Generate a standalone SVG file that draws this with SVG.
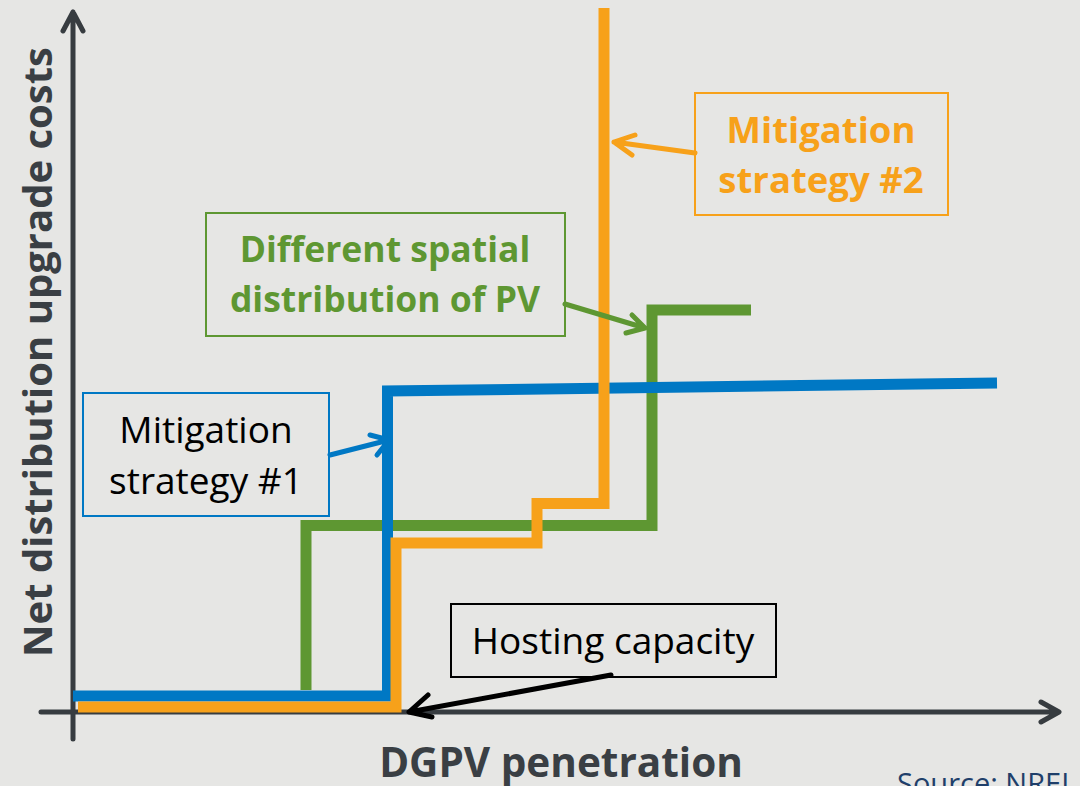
<svg xmlns="http://www.w3.org/2000/svg" width="1080" height="786" viewBox="0 0 1080 786">
  <style>
    .axis { stroke: #373c40; stroke-width: 5; fill: none; stroke-linecap: round; stroke-linejoin: round; }
    .step { fill: none; stroke-width: 11; stroke-linejoin: miter; stroke-linecap: butt; }
    .ptr { fill: none; stroke-width: 5; stroke-linecap: round; stroke-linejoin: round; }
    .box { fill: none; stroke-width: 2; }
    .lbl { font-family: "Open Sans", "Noto Sans", sans-serif; font-size: 37px; text-anchor: middle; }
    .bold { font-weight: bold; font-size: 35.5px; }
    .title { font-family: "Open Sans", "Noto Sans", sans-serif; font-weight: bold; fill: #3a3f44; text-anchor: middle; }
  </style>
  <rect width="1080" height="786" fill="#e6e6e4"/>

  <!-- axes -->
  <g id="axes">
    <path class="axis" d="M73 739 V12 M63 31 L73 12 L83 31"/>
    <path class="axis" d="M41 712 H1058 M1041 702 L1059 712 L1041 722"/>
    <text class="title" x="0" y="0" transform="translate(52 352) rotate(-90)" font-size="40">Net distribution upgrade costs</text>
    <text class="title" x="561" y="777" font-size="40.5">DGPV penetration</text>
  </g>

  <!-- cost curves -->
  <g id="curves">
    <path id="curve-green" class="step" stroke="#5e9732" d="M306 690 V525.5 H652 V310 H751"/>
    <path id="curve-blue" class="step" stroke="#0078c4" d="M73 696 H387.5 V391 L997 383"/>
    <path id="curve-orange" class="step" stroke="#f7a11a" d="M78 707 H396 V543 H537 V503.5 H604 V8"/>
  </g>

  <!-- callout connectors -->
  <g id="connectors">
    <path class="ptr" stroke="#0078c4" d="M330 455 L389 440 M370 435 L389 440 L377 455"/>
    <path class="ptr" stroke="#f7a11a" d="M695 153 L614 142 M635 135 L614 142 L632 155"/>
    <path class="ptr" stroke="#5e9732" d="M565 304 L645 328 M632 315 L645 328 L626 333"/>
    <path class="ptr" stroke="#000000" d="M611 675 L409 712 M428 695 L409 712 L432 717"/>
  </g>

  <g id="note-strategy1">
    <rect class="box" x="83" y="393" width="246" height="123" stroke="#0078c4"/>
    <text class="lbl" x="206" y="443" fill="#000">Mitigation</text>
    <text class="lbl" x="206" y="494" fill="#000">strategy #1</text>
  </g>

  <g id="note-strategy2">
    <rect class="box" x="695" y="93" width="253" height="122" stroke="#f7a11a"/>
    <text class="lbl bold" x="821" y="143" fill="#f7a11a" style="font-size:36.5px">Mitigation</text>
    <text class="lbl bold" x="821" y="193" fill="#f7a11a" style="font-size:36.5px">strategy #2</text>
  </g>

  <g id="note-spatial">
    <rect class="box" x="206" y="213" width="359" height="123" stroke="#5e9732"/>
    <text class="lbl bold" x="385" y="262" fill="#5e9732">Different spatial</text>
    <text class="lbl bold" x="385" y="312" fill="#5e9732">distribution of PV</text>
  </g>

  <g id="note-hosting">
    <rect class="box" x="451" y="604" width="325" height="73" stroke="#000"/>
    <text class="lbl" x="613" y="654" fill="#000">Hosting capacity</text>
  </g>

  <text x="897" y="794" font-family="'Open Sans', 'Noto Sans', sans-serif" font-size="29" fill="#1f3f6a">Source: NREL</text>
</svg>
